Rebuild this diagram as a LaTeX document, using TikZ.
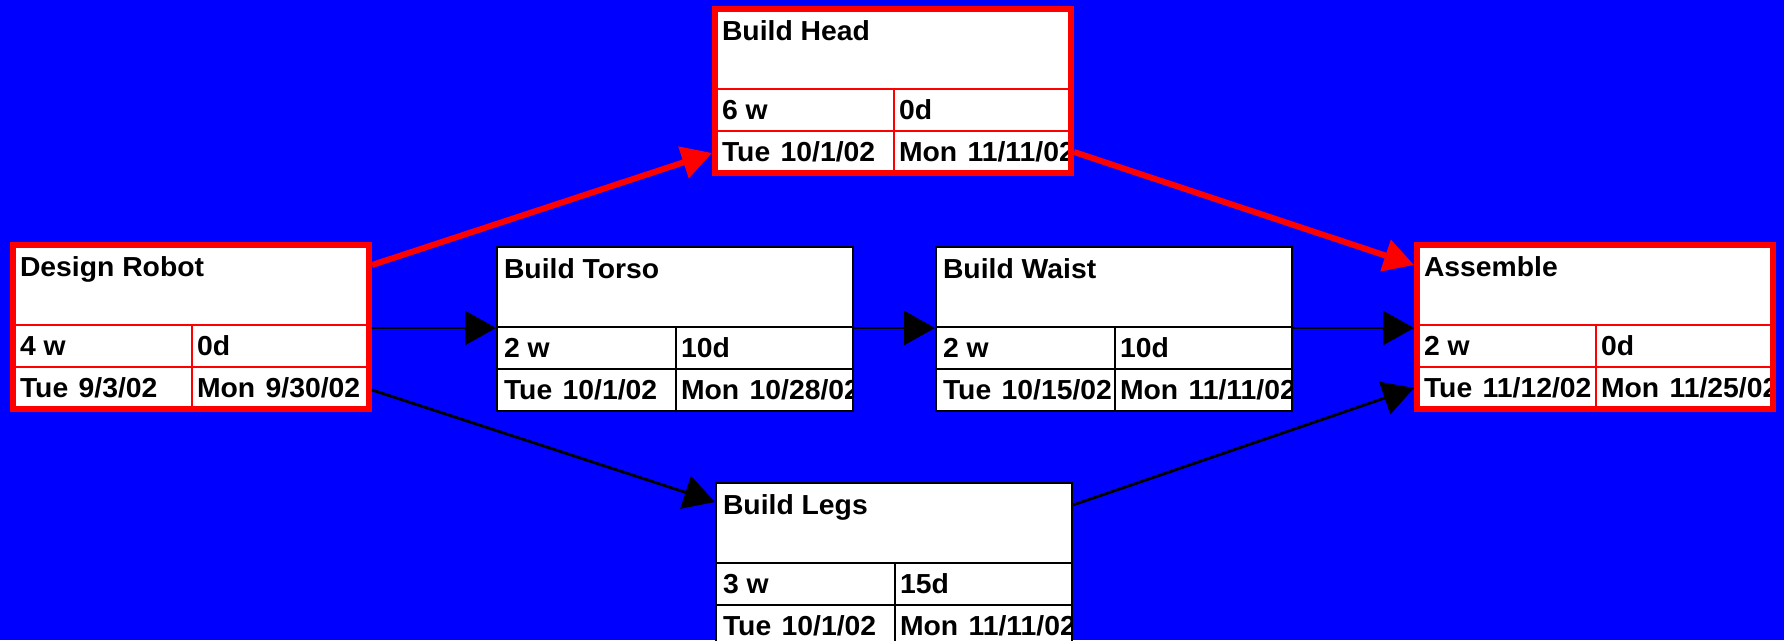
\documentclass[tikz,border=0pt]{standalone}
\usepackage{fontspec}
\setmainfont{Liberation Sans}[FakeStretch=1.03]
\usetikzlibrary{arrows.meta}

\definecolor{bgblue}{RGB}{0,0,255}
\definecolor{critred}{RGB}{255,0,0}

% gap between weekday and date
\newcommand{\dategap}{\hspace{0.38em}}

\tikzset{
  taskframe/.style={rectangle, fill=white, draw=none, inner sep=0pt, outer sep=0pt,
    minimum width=356pt, minimum height=164pt, anchor=north west},
  celltext/.style={inner sep=0pt, outer sep=0pt, anchor=base west,
    font=\fontsize{27.5}{30}\selectfont\bfseries},
  critborder/.style={draw=critred, line width=6pt},
  critline/.style={draw=critred, line width=2pt},
  normborder/.style={draw=black, line width=2.6pt},
  normline/.style={draw=black, line width=2.6pt},
  critarrow/.style={draw=critred, fill=critred, line width=6pt,
    -{Triangle[length=30pt,width=32pt]}},
  normarrow/.style={draw=black, fill=black, line width=2.8pt,
    -{Triangle[length=31pt,width=34pt]}},
}

% task box: #1 name, #2/#3 top-left corner, #4 crit|norm,
% #5 title, #6 duration, #7 slack, #8 start, #9 finish
\newcommand{\taskbox}[9]{%
  \node[taskframe] (#1) at (#2,#3) {};
  \coordinate (#1-hl) at ([yshift=-80pt]#1.north west);
  \coordinate (#1-hr) at ([yshift=-80pt]#1.north east);
  \coordinate (#1-rl) at ([yshift=-122pt]#1.north west);
  \coordinate (#1-rr) at ([yshift=-122pt]#1.north east);
  \coordinate (#1-ct) at ([xshift=179pt]#1-hl);
  \coordinate (#1-cm) at ([xshift=179pt]#1-rl);
  \coordinate (#1-cb) at ([xshift=179pt]#1.south west);
  \node[celltext] (#1-title) at ([xshift=7pt,yshift=-31pt]#1.north west) {#5};
  \begin{scope}
    \clip (#1-hl) rectangle (#1-cb);
    \node[celltext] (#1-dur) at ([xshift=7pt,yshift=-30pt]#1-hl) {#6};
    \node[celltext] (#1-start) at ([xshift=7pt,yshift=-30pt]#1-rl) {#8};
  \end{scope}
  \begin{scope}
    \clip (#1-ct) rectangle (#1.south east);
    \node[celltext] (#1-slack) at ([xshift=5pt,yshift=-30pt]#1-ct) {#7};
    \node[celltext] (#1-finish) at ([xshift=5pt,yshift=-30pt]#1-cm) {#9};
  \end{scope}
  \draw[#4line] (#1-hl) -- (#1-hr) (#1-rl) -- (#1-rr) (#1-ct) -- (#1-cb);
  \draw[#4border] (#1.north west) rectangle (#1.south east);
}

\begin{document}
\begin{tikzpicture}[x=1pt, y=-1pt]
  \useasboundingbox (0,0) rectangle (1784,640);
  \fill[bgblue] (0,0) rectangle (1784,640);

  \taskbox{dr}{13}{245}{crit}{Design Robot}{4 w}{0d}{Tue\dategap 9/3/02}{Mon\dategap 9/30/02}
  \taskbox{head}{715}{9}{crit}{Build Head}{6 w}{0d}{Tue\dategap 10/1/02}{Mon\dategap 11/11/02}
  \taskbox{torso}{497}{247}{norm}{Build Torso}{2 w}{10d}{Tue\dategap 10/1/02}{Mon\dategap 10/28/02}
  \taskbox{waist}{936}{247}{norm}{Build Waist}{2 w}{10d}{Tue\dategap 10/15/02}{Mon\dategap 11/11/02}
  \taskbox{asm}{1417}{245}{crit}{Assemble}{2 w}{0d}{Tue\dategap 11/12/02}{Mon\dategap 11/25/02}
  \taskbox{legs}{716}{483}{norm}{Build Legs}{3 w}{15d}{Tue\dategap 10/1/02}{Mon\dategap 11/11/02}

  % connection points on the box sides
  \coordinate (dr-o1) at ([xshift=3pt,yshift=-20pt]dr.north east);
  \coordinate (dr-o2) at ([xshift=3pt,yshift=-83pt]dr.north east);
  \coordinate (dr-o3) at ([xshift=3pt,yshift=-145pt]dr.north east);
  \coordinate (head-in) at ([xshift=-3pt,yshift=-144pt]head.north west);
  \coordinate (head-out) at ([xshift=3pt,yshift=-143pt]head.north east);
  \coordinate (torso-in) at ([xshift=-1pt,yshift=-81pt]torso.north west);
  \coordinate (torso-out) at ([xshift=1pt,yshift=-81pt]torso.north east);
  \coordinate (waist-in) at ([xshift=-1pt,yshift=-81pt]waist.north west);
  \coordinate (waist-out) at ([xshift=1pt,yshift=-81pt]waist.north east);
  \coordinate (asm-in1) at ([xshift=-3pt,yshift=-20pt]asm.north west);
  \coordinate (asm-in2) at ([xshift=-3pt,yshift=-83pt]asm.north west);
  \coordinate (asm-in3) at ([xshift=-3pt,yshift=-143pt]asm.north west);
  \coordinate (legs-in) at ([xshift=-1pt,yshift=-19pt]legs.north west);
  \coordinate (legs-out) at ([xshift=1pt,yshift=-22pt]legs.north east);

  % critical path
  \draw[critarrow] (dr-o1) -- (head-in);
  \draw[critarrow] (head-out) -- (asm-in1);
  % other dependencies
  \draw[normarrow] (dr-o2) -- (torso-in);
  \draw[normarrow] (torso-out) -- (waist-in);
  \draw[normarrow] (waist-out) -- (asm-in2);
  \draw[normarrow] (dr-o3) -- (legs-in);
  \draw[normarrow] (legs-out) -- (asm-in3);
\end{tikzpicture}
\end{document}
